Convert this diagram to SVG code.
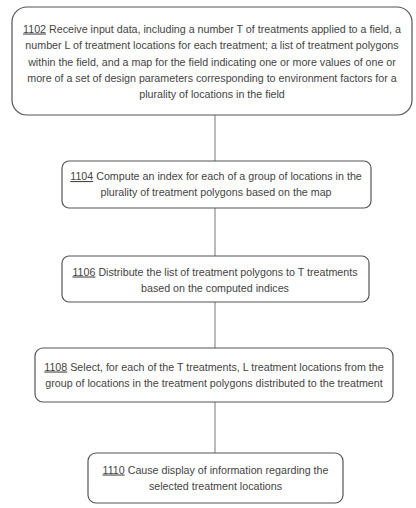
<svg xmlns="http://www.w3.org/2000/svg" width="416" height="508" viewBox="0 0 416 508">
<style>
.box{fill:#fff;stroke:#555;stroke-width:1.2}
.t{font-family:"Liberation Sans",Arial,sans-serif;font-size:10.7px;fill:#444;text-anchor:middle}
.u{text-decoration:underline}
.c{stroke:#777;stroke-width:1;fill:none}
</style>
<rect width="416" height="508" fill="#fff"/>
<g id="connectors">
<line class="c" x1="215" y1="115" x2="215" y2="161"/>
<line class="c" x1="215" y1="208" x2="215" y2="256"/>
<line class="c" x1="215" y1="302" x2="215" y2="348"/>
<line class="c" x1="215" y1="402" x2="215" y2="453"/>
</g>
<g id="n1102">
<rect class="box" x="12" y="7" width="400" height="108" rx="15"/>
<text class="t" x="212" y="32.5"><tspan class="u">1102</tspan> Receive input data, including a number T of treatments applied to a field, a</text>
<text class="t" x="212" y="49">number L of treatment locations for each treatment; a list of treatment polygons</text>
<text class="t" x="212" y="65.5">within the field, and a map for the field indicating one or more values of one or</text>
<text class="t" x="212" y="82">more of a set of design parameters corresponding to environment factors for a</text>
<text class="t" x="212" y="98">plurality of locations in the field</text>
</g>
<g id="n1104">
<rect class="box" x="62" y="161" width="309" height="47" rx="7"/>
<text class="t" x="216" y="180"><tspan class="u">1104</tspan> Compute an index for each of a group of locations in the</text>
<text class="t" x="216" y="196">plurality of treatment polygons based on the map</text>
</g>
<g id="n1106">
<rect class="box" x="62" y="256" width="307" height="46" rx="7"/>
<text class="t" x="215" y="275.5"><tspan class="u">1106</tspan> Distribute the list of treatment polygons to T treatments</text>
<text class="t" x="215" y="291.5">based on the computed indices</text>
</g>
<g id="n1108">
<rect class="box" x="35" y="348" width="358" height="54" rx="8"/>
<text class="t" x="214" y="370.5"><tspan class="u">1108</tspan> Select, for each of the T treatments, L treatment locations from the</text>
<text class="t" x="214" y="386.5">group of locations in the treatment polygons distributed to the treatment</text>
</g>
<g id="n1110">
<rect class="box" x="88" y="453" width="255" height="50" rx="8"/>
<text class="t" x="215.5" y="473.5"><tspan class="u">1110</tspan> Cause display of information regarding the</text>
<text class="t" x="215.5" y="489.5">selected treatment locations</text>
</g>
</svg>
